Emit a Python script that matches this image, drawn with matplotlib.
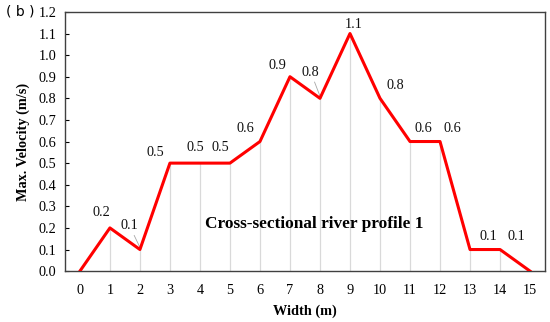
import matplotlib
matplotlib.use("Agg")
import matplotlib.pyplot as plt

# data
width_m = list(range(16))
max_velocity = [0.0, 0.2, 0.1, 0.5, 0.5, 0.5, 0.6, 0.9, 0.8, 1.1, 0.8, 0.6, 0.6, 0.1, 0.1, 0.0]

# data label placement (x, y) for points 1..14 as in the original figure
label_x = [0.7, 1.66, 2.52, 3.85, 4.68, 5.5, 6.57, 7.67, 9.13, 10.5, 11.45, 12.4, 13.6, 14.55]
label_y = [0.27, 0.21, 0.55, 0.57, 0.57, 0.66, 0.95, 0.92, 1.14, 0.86, 0.66, 0.66, 0.16, 0.16]
leader_points = [2, 8]

plt.rcParams["font.family"] = ["Liberation Serif", "DejaVu Serif"]

fig = plt.figure(figsize=(5.5, 3.22), dpi=100)
ax = fig.add_axes([0.118, 0.158, 0.873, 0.805])

# light drop lines under each point
ax.vlines(width_m, 0, max_velocity, colors="#d9d9d9", linewidth=0.9, zorder=1)
ax.plot(width_m, max_velocity, color="#ff0000", linewidth=2.2, zorder=3)

for i, (lx, ly) in enumerate(zip(label_x, label_y), start=1):
    ax.text(lx, ly, f"{max_velocity[i]:.1f}", ha="center", va="center",
            fontsize=10.3, color="#111111", zorder=4)
    if i in leader_points:
        ax.plot([lx + 0.15, width_m[i]], [ly - 0.045, max_velocity[i] + 0.01],
                color="#a6a6a6", linewidth=0.6, zorder=2)

ax.text(7.8, 0.22, "Cross-sectional river profile 1", ha="center", va="center",
        fontsize=12.4, fontweight="bold", zorder=4)

ax.set_xlim(-0.5, 15.5)
ax.set_ylim(0, 1.2)
ax.set_xticks(width_m)
ax.set_yticks([i / 10 for i in range(13)])
ax.set_yticklabels([f"{i / 10:.1f}" for i in range(13)])
ax.tick_params(axis="x", length=0, pad=9, labelsize=10.3)
ax.tick_params(axis="y", direction="in", length=3, pad=6, labelsize=10.3)

for side in ax.spines.values():
    side.set_color("#404040")
    side.set_linewidth(1.0)

ax.set_xlabel("Width (m)", fontsize=10.3, fontweight="bold", labelpad=6)
ax.set_ylabel("Max. Velocity (m/s)", fontsize=10.3, fontweight="bold", labelpad=6)

fig.text(0.01, 0.963, "( b )", fontsize=10, family=["DejaVu Sans"], va="center")

fig.savefig("out.png", dpi=100)
